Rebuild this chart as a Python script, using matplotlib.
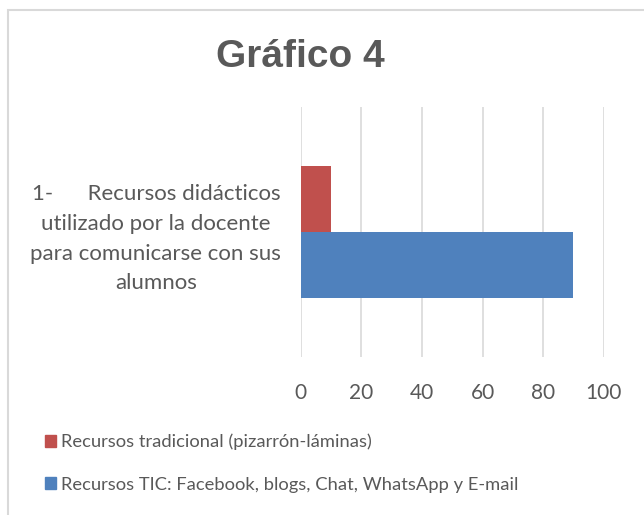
import matplotlib
matplotlib.use("Agg")
import matplotlib.pyplot as plt
from matplotlib.patches import Rectangle, Patch

# data
category = "1-      Recursos didácticos\nutilizado por la docente\npara comunicarse con sus\nalumnos"
series_names = ["Recursos tradicional (pizarrón-láminas)",
                "Recursos TIC: Facebook, blogs, Chat, WhatsApp y E-mail"]
series_values = [10, 90]
series_colors = ["#c0504d", "#4f81bd"]
x_ticks = [0, 20, 40, 60, 80, 100]

TEXT = "#595959"
FONT = "Lato"

fig = plt.figure(figsize=(6.44, 5.15), dpi=100)

# chart area border (runs off the right/bottom edge like the screenshot)
fig.patches.append(Rectangle((8 / 644, -0.1), 1.0, 1 - 10 / 515 + 0.1,
                             transform=fig.transFigure, fill=False,
                             edgecolor="#d9d9d9", linewidth=1.5))

ax = fig.add_axes([300.7 / 644, 1 - 357 / 515, 303 / 644, 250 / 515])

h = 0.264
ax.barh(h / 2, series_values[0], height=h, color=series_colors[0], zorder=3)
ax.barh(-h / 2, series_values[1], height=h, color=series_colors[1], zorder=3)

ax.set_xlim(0, 100)
ax.set_ylim(-0.5, 0.5)
ax.set_xticks(x_ticks)
ax.set_xticklabels([str(t) for t in x_ticks], fontsize=15, color=TEXT, family=FONT)
ax.set_yticks([0])
ax.set_yticklabels([category], fontsize=16, color=TEXT, family=FONT,
                   multialignment="center", linespacing=1.6)
ax.tick_params(axis="both", length=0)
ax.tick_params(axis="x", pad=19)
ax.tick_params(axis="y", pad=14)
ax.grid(axis="x", color="#d9d9d9", linewidth=1.2, zorder=0)
for s in ax.spines.values():
    s.set_visible(False)

fig.text(300 / 644, 1 - 57 / 515, "Gráfico 4", ha="center", va="center",
         fontsize=28, fontweight="bold", color=TEXT, family="Liberation Sans")

handles = [Patch(color=c, label=n) for c, n in zip(series_colors, series_names)]
fig.legend(handles=handles, loc="upper left", bbox_to_anchor=(28 / 644, 1 - 417 / 515),
           frameon=False, handlelength=0.65, handleheight=0.65, handletextpad=0.25,
           labelspacing=1.45, prop={"family": FONT, "size": 13.2}, labelcolor=TEXT)

fig.savefig("out.png", dpi=100)
